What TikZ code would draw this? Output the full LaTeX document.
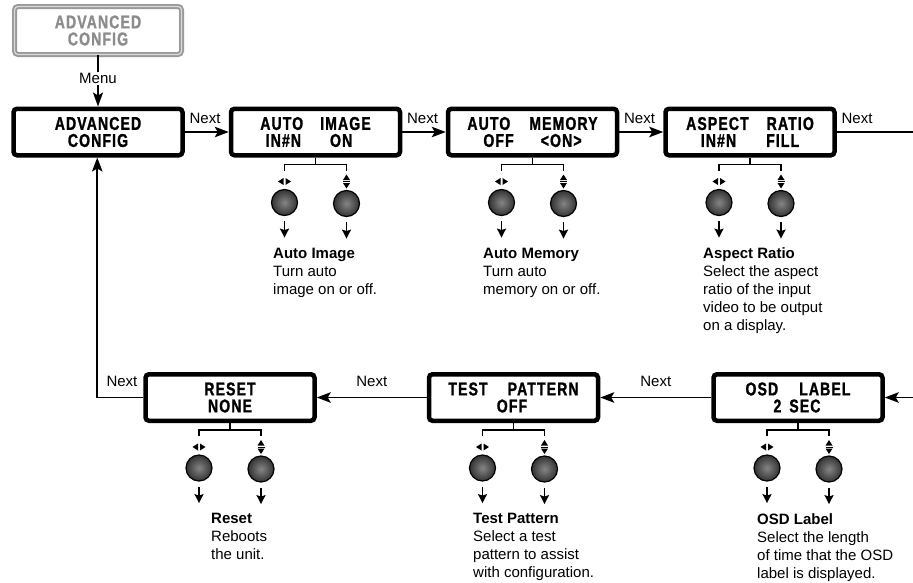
\documentclass[tikz,border=0pt]{standalone}
\usepackage{fontspec}
\setmainfont{Liberation Sans}
\newfontfamily\lcdfont[FakeStretch=0.76,LetterSpace=6,FakeBold=1.3]{Liberation Sans Bold}
\usetikzlibrary{arrows.meta,calc}
\newcommand\lcdsp[1]{\hbox to #1{}}
\tikzset{
  lcd/.style={draw=black, line width=4.5pt, rounded corners=3.5pt, minimum width=169pt,
    minimum height=46.5pt, inner sep=0pt, align=center,
    font=\lcdfont\fontsize{18.5}{17}\selectfont},
  lcdgray/.style={lcd, draw=black!40, line width=1.9pt, double=black!15, double distance=1.2pt,
    text=black!45, minimum width=167pt, minimum height=48pt},
  wire/.style={line width=1.7pt},
  nextarrow/.style={wire, -{Stealth[length=14pt,width=10.5pt,inset=3pt]}},
  downarrow/.style={line width=1.8pt, -{Stealth[length=9pt,width=9pt,inset=1.5pt]}},
  thinwire/.style={line width=1.5pt},
  button/.style={circle, draw=black, line width=1.2pt, minimum size=26pt, inner sep=0pt,
    inner color=black!48, outer color=black!80},
  lbl/.style={font=\fontsize{15}{18}\selectfont, inner sep=1pt},
  desc/.style={font=\fontsize{15}{18}\selectfont, align=left, inner sep=0pt, anchor=north west},
}
% #1 box name, #2 x offset of description, #3 description
\newcommand\keypad[3]{%
  \draw[thinwire] (#1.south) -- ++(0,7) coordinate (#1-bar);
  \draw[thinwire] ($(#1-bar)+(-31,6)$) -- ($(#1-bar)+(-31,0)$) -- ($(#1-bar)+(31,0)$) -- ($(#1-bar)+(31,6)$);
  \coordinate (#1-lr) at ($(#1-bar)+(-31,17)$);
  \coordinate (#1-ud) at ($(#1-bar)+(31,17)$);
  \begin{scope}[shift={(#1-lr)}]
    \fill (-1,-3.5) -- (-1,3.5) -- (-6.5,0) -- cycle;
    \fill (1,-3.5) -- (1,3.5) -- (6.5,0) -- cycle;
  \end{scope}
  \begin{scope}[shift={(#1-ud)}]
    \fill (-3.5,-1.5) -- (3.5,-1.5) -- (0,-7) -- cycle;
    \fill (-3.5,1.5) -- (3.5,1.5) -- (0,7) -- cycle;
    \draw[line width=0.6pt] (-3.5,0) -- (3.5,0);
  \end{scope}
  \node[button] (#1-b1) at ($(#1-bar)+(-31,38)$) {};
  \node[button] (#1-b2) at ($(#1-bar)+(31,39)$) {};
  \draw[downarrow] (#1-b1.south) ++(0,5) -- ++(0,16.5);
  \draw[downarrow] (#1-b2.south) ++(0,5) -- ++(0,16.5);
  \node[desc] (#1-txt) at ($(#1-bar)+(#2,83)$) {#3};
}
\begin{document}
\begin{tikzpicture}[x=1pt,y=-1pt]
\useasboundingbox (0,0) rectangle (913,582);

% boxes
\node[lcdgray] (menu) at (98,30.5) {ADVANCED\\CONFIG};
\node[lcd] (adv) at (98,132) {ADVANCED\\CONFIG};
\node[lcd] (aimg) at (315.5,132) {AUTO\lcdsp{17pt}IMAGE\\IN\#N\lcdsp{29pt}ON\lcdsp{13pt}};
\node[lcd] (amem) at (532.5,132) {AUTO\lcdsp{19pt}MEMORY\\OFF\lcdsp{27pt}<ON>};
\node[lcd] (asp) at (750,132) {ASPECT\lcdsp{18pt}RATIO\\IN\#N\lcdsp{30pt}FILL};
\node[lcd] (reset) at (230,397.5) {RESET\\NONE};
\node[lcd] (test) at (513.5,397.5) {TEST\lcdsp{20pt}PATTERN\\OFF\lcdsp{3pt}};
\node[lcd] (osd) at (798,397.5) {OSD\lcdsp{21pt}LABEL\\2\lcdsp{8pt}SEC\lcdsp{2pt}};

% connectors
\draw[wire, -{Stealth[length=14pt,width=10pt,inset=3pt]}] (menu.south) -- node[lbl, fill=white, pos=0.45] {Menu} (adv.north);
\draw[nextarrow] (adv.east) -- node[lbl, pos=0, anchor=base west, xshift=3pt, yshift=9pt] {Next} (aimg.west);
\draw[nextarrow] (aimg.east) -- node[lbl, pos=0, anchor=base west, xshift=3pt, yshift=9pt] {Next} (amem.west);
\draw[nextarrow] (amem.east) -- node[lbl, pos=0, anchor=base west, xshift=3pt, yshift=9pt] {Next} (asp.west);
\coordinate (rt) at (920,132);
\draw[wire] (asp.east) -- node[lbl, pos=0, anchor=base west, xshift=3pt, yshift=9pt] {Next} (rt);
\draw[nextarrow] (rt) |- (osd.east);
\draw[nextarrow] (osd.west) -- node[lbl, anchor=base, yshift=11pt] {Next} (test.east);
\draw[nextarrow] (test.west) -- node[lbl, anchor=base, yshift=11pt] {Next} (reset.east);
\draw[nextarrow] (reset.west) -- ++(-46,0) node[lbl, pos=0, anchor=base east, xshift=-4pt, yshift=11pt] {Next} -- (adv.south -| {$(reset.west)+(-46,0)$});

% keypads
\keypad{aimg}{-42.5}{\textbf{Auto Image}\\Turn auto\\image on or off.}
\keypad{amem}{-49.5}{\textbf{Auto Memory}\\Turn auto\\memory on or off.}
\keypad{asp}{-47}{\textbf{Aspect Ratio}\\Select the aspect\\ratio of the input\\video to be output\\on a display.}
\keypad{reset}{-19}{\textbf{Reset}\\Reboots\\the unit.}
\keypad{test}{-40.5}{\textbf{Test Pattern}\\Select a test\\pattern to assist\\with configuration.}
\keypad{osd}{-41}{\textbf{OSD Label}\\Select the length\\of time that the OSD\\label is displayed.}
\end{tikzpicture}
\end{document}
